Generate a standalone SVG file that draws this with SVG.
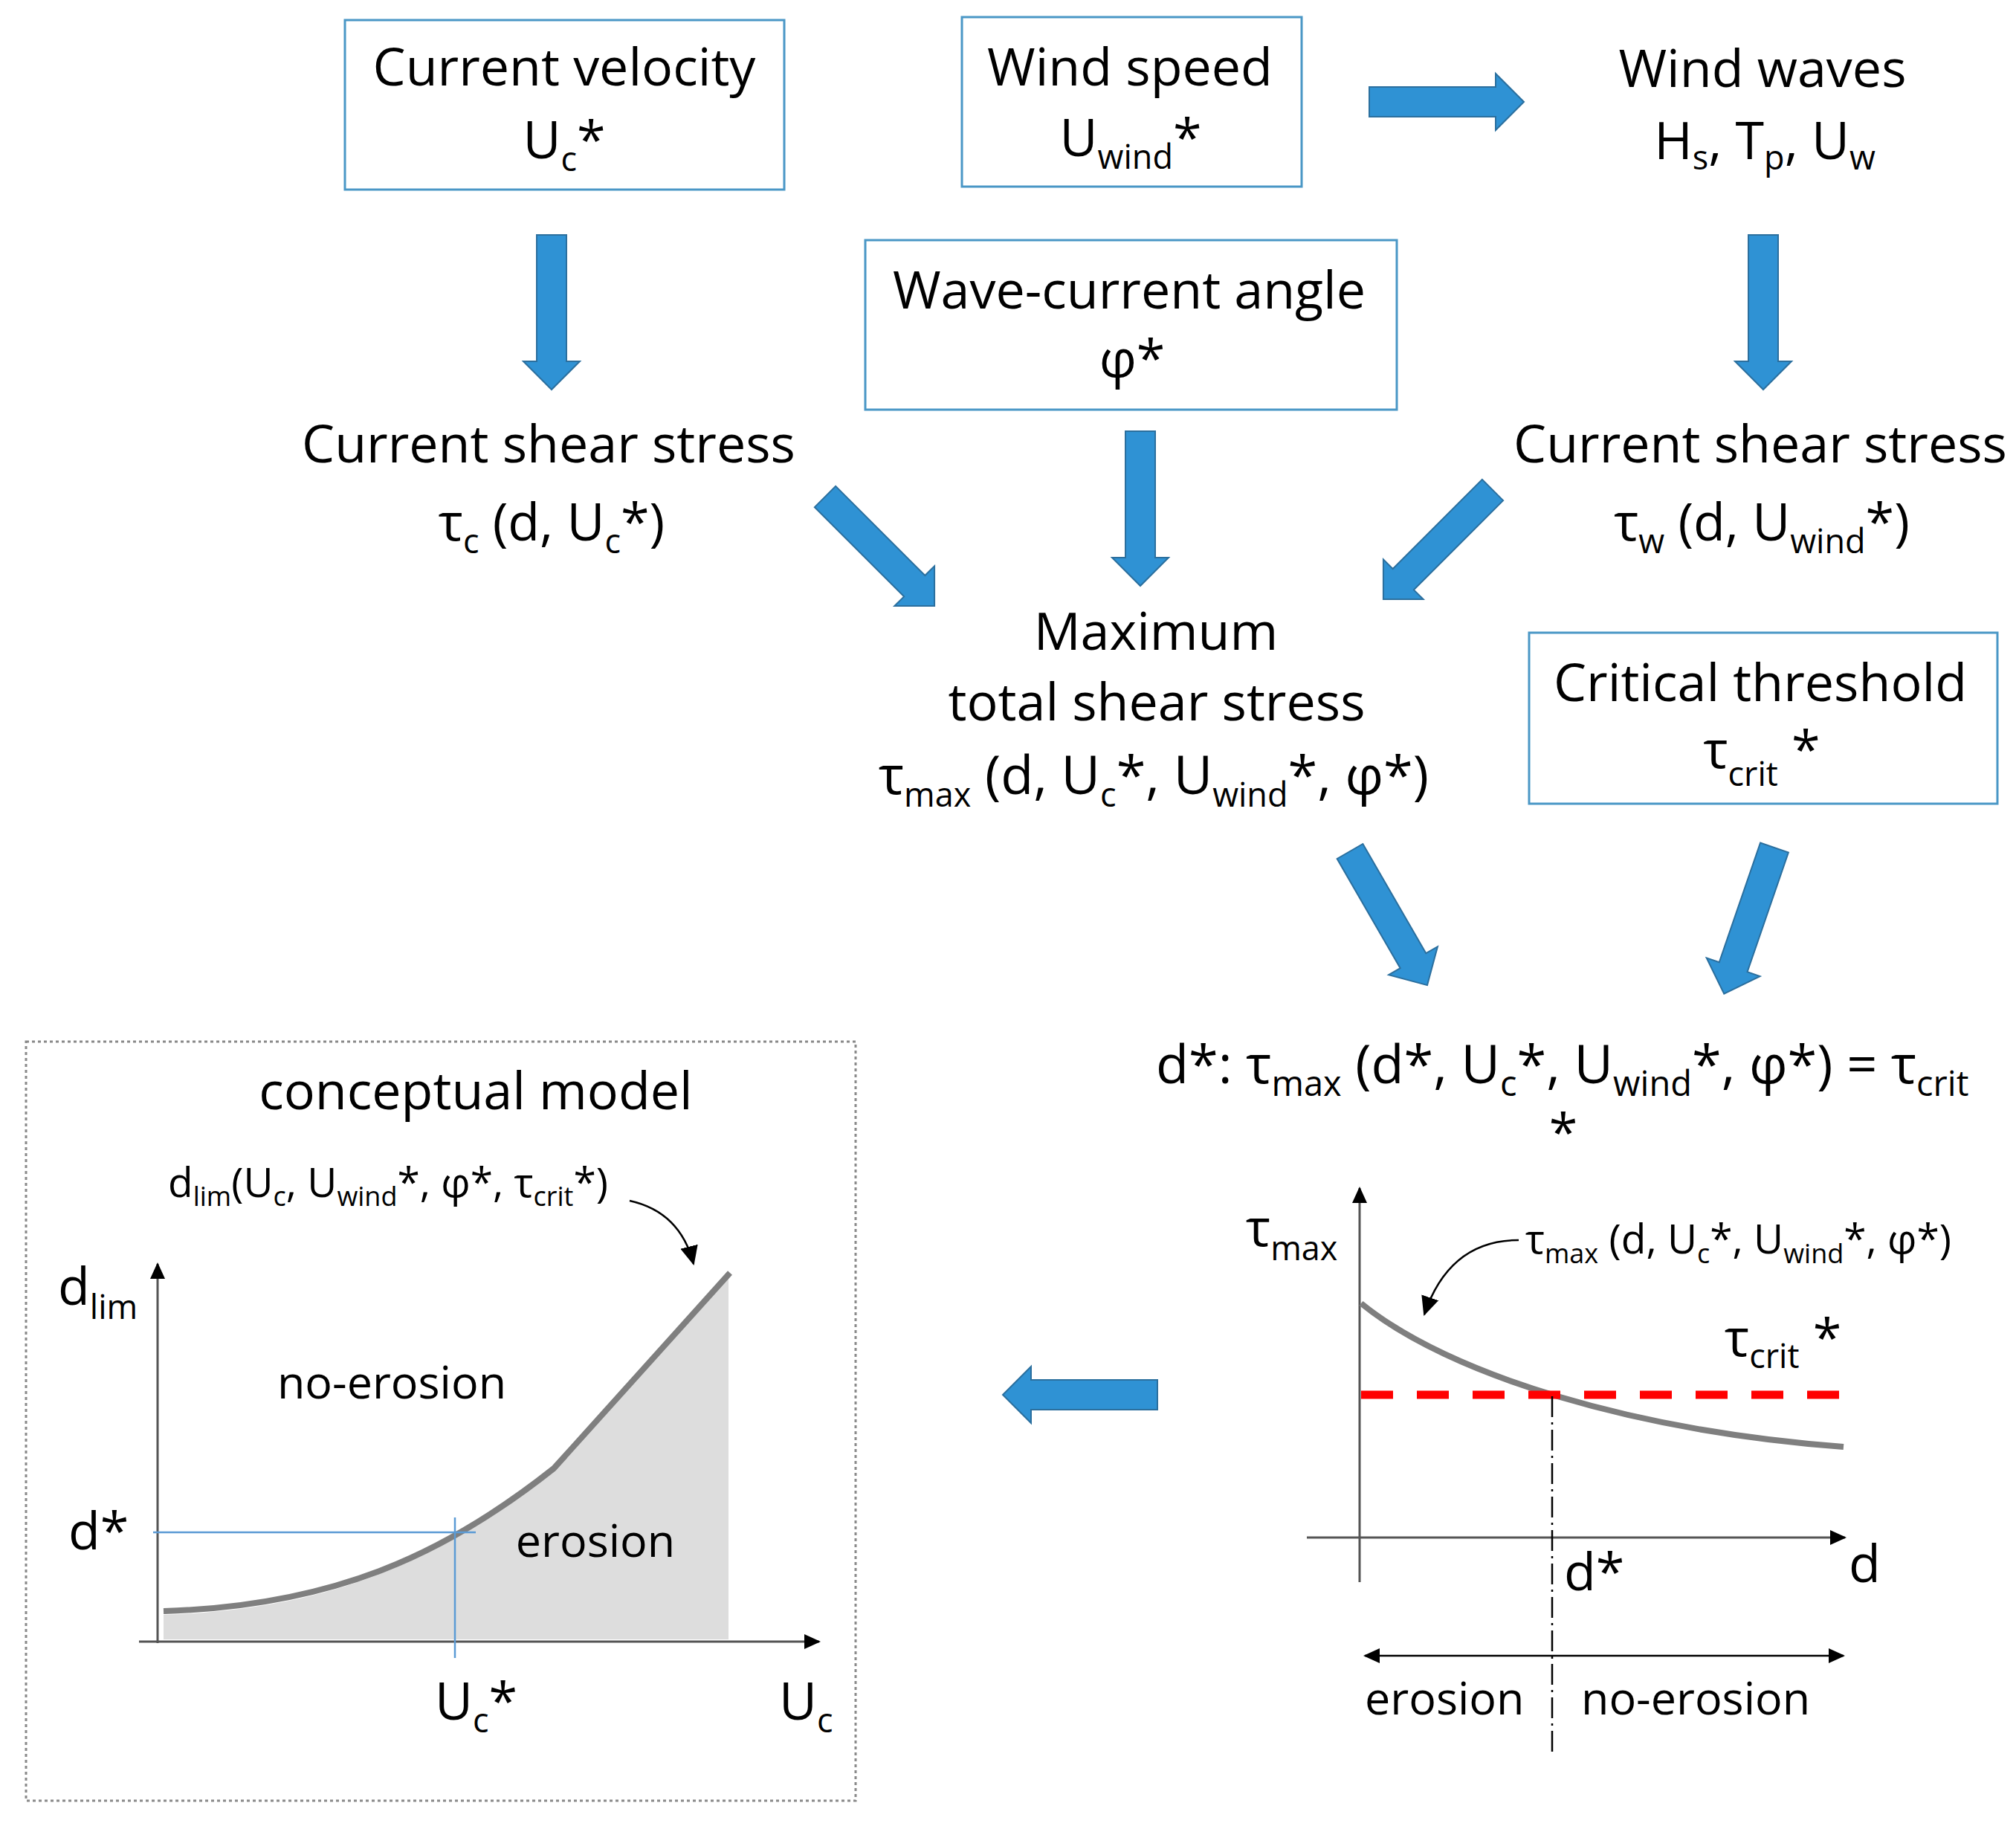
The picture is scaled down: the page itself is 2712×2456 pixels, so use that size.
<svg xmlns="http://www.w3.org/2000/svg" xmlns:xlink="http://www.w3.org/1999/xlink" width="2712" height="2456" viewBox="0 0 2712 2456">
<style>
.t{font-family:"Open Sans","Liberation Sans",sans-serif;font-size:70px;fill:#000}
.m{font-size:61px}
.sm{font-size:55px}
.s{font-size:45px}
.ss{font-size:36px}
.box{fill:#fff;stroke:#4a97c6;stroke-width:3}
.ba{fill:#2f92d4;stroke:#2b6f9e;stroke-width:2;stroke-linejoin:miter}
.ax{stroke:#555;stroke-width:3;fill:none}
.thin{stroke:#000;stroke-width:2.5;fill:none}
.curve{stroke:#7f7f7f;stroke-width:8;fill:none}
.blue{stroke:#5b9bd5;stroke-width:2.5;fill:none}
</style>
<defs>
<path id="barrow" d="M0,-20 H170 V-38 L208,0 L170,38 V20 H0 Z"/>
<marker id="ah" markerUnits="userSpaceOnUse" viewBox="0 0 22 20" refX="20" refY="10" markerWidth="22" markerHeight="20" orient="auto-start-reverse">
<path d="M0,0 L22,10 L0,20 Z" fill="#000"/>
</marker>
<marker id="ah2" markerUnits="userSpaceOnUse" viewBox="0 0 26 24" refX="24" refY="12" markerWidth="26" markerHeight="24" orient="auto">
<path d="M0,0 L26,12 L0,24 Z" fill="#000"/>
</marker>
</defs>
<rect width="2712" height="2456" fill="#fff"/>

<g id="connectors">
<use xlink:href="#barrow" href="#barrow" class="ba" transform="translate(1842,137)"/>
<use xlink:href="#barrow" href="#barrow" class="ba" transform="translate(742,316) rotate(90)"/>
<use xlink:href="#barrow" href="#barrow" class="ba" transform="translate(2372,316) rotate(90)"/>
<use xlink:href="#barrow" href="#barrow" class="ba" transform="translate(1534,580) rotate(90)"/>
<use xlink:href="#barrow" href="#barrow" class="ba" transform="translate(1110,668) rotate(45)"/>
<use xlink:href="#barrow" href="#barrow" class="ba" transform="translate(2008,659) rotate(135)"/>
<use xlink:href="#barrow" href="#barrow" class="ba" transform="translate(1816,1145) rotate(60)"/>
<use xlink:href="#barrow" href="#barrow" class="ba" transform="translate(2387,1140) rotate(109)"/>
<use xlink:href="#barrow" href="#barrow" class="ba" transform="translate(1557,1876) rotate(180)"/>
</g>

<g id="current-velocity">
<rect class="box" x="464" y="27" width="591" height="228"/>
<text class="t" x="759" y="115" text-anchor="middle">Current velocity</text>
<text class="t" x="759" y="213" text-anchor="middle">U<tspan class="s" dy="17">c</tspan><tspan dy="-17">*</tspan></text>
</g>

<g id="wind-speed">
<rect class="box" x="1294" y="23" width="457" height="228"/>
<text class="t" x="1520" y="115" text-anchor="middle">Wind speed</text>
<text class="t" x="1521" y="210" text-anchor="middle">U<tspan class="s" dy="17">wind</tspan><tspan dy="-17">*</tspan></text>
</g>

<g id="wind-waves">
<text class="t" x="2371" y="117" text-anchor="middle">Wind waves</text>
<text class="t" x="2374" y="214" text-anchor="middle">H<tspan class="s" dy="14">s</tspan><tspan dy="-14">, T</tspan><tspan class="s" dy="14">p</tspan><tspan dy="-14">, U</tspan><tspan class="s" dy="14">w</tspan></text>
</g>

<g id="wave-current-angle">
<rect class="box" x="1164" y="323" width="715" height="228"/>
<text class="t" x="1519" y="415" text-anchor="middle">Wave-current angle</text>
<text class="t" x="1523" y="507" text-anchor="middle">φ*</text>
</g>

<g id="current-shear-stress">
<text class="t" x="738" y="622" text-anchor="middle">Current shear stress</text>
<text class="t" x="742" y="727" text-anchor="middle">τ<tspan class="s" dy="17">c</tspan><tspan dy="-17"> (d, U</tspan><tspan class="s" dy="17">c</tspan><tspan dy="-17">*)</tspan></text>
</g>

<g id="wave-shear-stress">
<text class="t" x="2368" y="622" text-anchor="middle">Current shear stress</text>
<text class="t" x="2370" y="727" text-anchor="middle">τ<tspan class="s" dy="17">w</tspan><tspan dy="-17"> (d, U</tspan><tspan class="s" dy="17">wind</tspan><tspan dy="-17">*)</tspan></text>
</g>

<g id="maximum-shear-stress">
<text class="t" x="1555" y="874" text-anchor="middle">Maximum</text>
<text class="t" x="1556" y="969" text-anchor="middle">total shear stress</text>
<text class="t" x="1552" y="1068" text-anchor="middle" style="font-size:72px">τ<tspan class="s" dy="17">max</tspan><tspan dy="-17"> (d, U</tspan><tspan class="s" dy="17">c</tspan><tspan dy="-17">*, U</tspan><tspan class="s" dy="17">wind</tspan><tspan dy="-17">*, φ*)</tspan></text>
</g>

<g id="critical-threshold">
<rect class="box" x="2057" y="851" width="630" height="230"/>
<text class="t" x="2368" y="943" text-anchor="middle">Critical threshold</text>
<text class="t" x="2370" y="1033" text-anchor="middle">τ<tspan class="s" dy="24">crit</tspan><tspan dy="-24"> *</tspan></text>
</g>

<g id="limit-depth-equation">
<text class="t" x="1555" y="1457" style="font-size:72px">d*: τ<tspan class="s" dy="17" style="font-size:47px">max</tspan><tspan dy="-17"> (d*, U</tspan><tspan class="s" dy="17" style="font-size:47px">c</tspan><tspan dy="-17">*, U</tspan><tspan class="s" dy="17" style="font-size:47px">wind</tspan><tspan dy="-17">*, φ*) = τ</tspan><tspan class="s" dy="17" style="font-size:47px">crit</tspan></text>
<text class="t" x="2103" y="1548" text-anchor="middle">*</text>
</g>

<g id="stress-depth-graph">
<line class="ax" x1="1829" y1="2128" x2="1829" y2="1598" marker-end="url(#ah)"/>
<line class="ax" x1="1758" y1="2068" x2="2482" y2="2068" marker-end="url(#ah)"/>
<path class="curve" d="M1831,1753 C1950,1850 2200,1925 2480,1946"/>
<line x1="1831" y1="1876" x2="2476" y2="1876" stroke="#ff0000" stroke-width="11" stroke-dasharray="43 32"/>
<line x1="2088" y1="1878" x2="2088" y2="2360" stroke="#000" stroke-width="2.5" stroke-dasharray="28 7 3 7"/>
<line class="thin" x1="1836" y1="2227" x2="2480" y2="2227" marker-start="url(#ah)" marker-end="url(#ah)"/>
<path class="thin" d="M2043,1668 Q1950,1668 1916,1768" stroke-width="2.5" marker-end="url(#ah2)"/>
<text class="t" x="1676" y="1676">τ<tspan class="s" dy="19">max</tspan></text>
<text class="t sm" x="2052" y="1686">τ<tspan class="ss" dy="13">max</tspan><tspan dy="-13"> (d, U</tspan><tspan class="ss" dy="13">c</tspan><tspan dy="-13">*, U</tspan><tspan class="ss" dy="13">wind</tspan><tspan dy="-13">*, φ*)</tspan></text>
<text class="t" x="2320" y="1824">τ<tspan class="s" dy="16">crit</tspan><tspan dy="-16"> *</tspan></text>
<text class="t" x="2104" y="2139">d*</text>
<text class="t" x="2487" y="2128">d</text>
<text class="t m" x="1836" y="2306">erosion</text>
<text class="t m" x="2127" y="2306">no-erosion</text>
</g>

<g id="conceptual-model">
<rect x="35" y="1401" width="1116" height="1021" fill="none" stroke="#8a8a8a" stroke-width="3" stroke-dasharray="4 4"/>
<text class="t" x="640" y="1492" text-anchor="middle">conceptual model</text>
<text class="t sm" x="226" y="1610">d<tspan class="ss" dy="12">lim</tspan><tspan dy="-12">(U</tspan><tspan class="ss" dy="12">c</tspan><tspan dy="-12">, U</tspan><tspan class="ss" dy="12">wind</tspan><tspan dy="-12">*, φ*, τ</tspan><tspan class="ss" dy="12">crit</tspan><tspan dy="-12">*)</tspan></text>
<path d="M220,2172 C450,2165 600,2095 745,1975 L980,1714 L980,2205 L220,2205 Z" fill="#dddddd"/>
<line class="ax" x1="212" y1="2210" x2="212" y2="1700" marker-end="url(#ah)"/>
<line class="ax" x1="187" y1="2208" x2="1102" y2="2208" marker-end="url(#ah)"/>
<path class="curve" d="M220,2167 C450,2160 600,2090 745,1975 L982,1712"/>
<line class="blue" x1="206" y1="2061" x2="640" y2="2061"/>
<line class="blue" x1="612" y1="2041" x2="612" y2="2230"/>
<path class="thin" d="M847,1615 Q915,1630 933,1700" stroke-width="2.5" marker-end="url(#ah2)"/>
<text class="t" x="78" y="1755">d<tspan class="s" dy="19">lim</tspan></text>
<text class="t" x="92" y="2084">d*</text>
<text class="t m" x="527" y="1881" text-anchor="middle">no-erosion</text>
<text class="t m" x="801" y="2094" text-anchor="middle">erosion</text>
<text class="t" x="585" y="2313">U<tspan class="s" dy="17">c</tspan><tspan dy="-17">*</tspan></text>
<text class="t" x="1048" y="2313">U<tspan class="s" dy="17">c</tspan></text>
</g>
</svg>
